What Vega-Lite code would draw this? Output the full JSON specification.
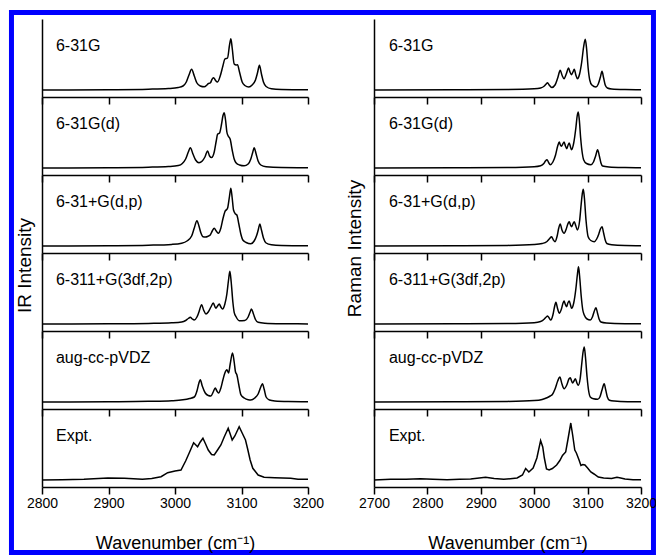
{
"$schema": "https://vega.github.io/schema/vega-lite/v6.json",
"background": "white",
"padding": {"left": 8, "top": 10, "right": 0, "bottom": 0},
"bounds": "flush",
"spacing": 332,
"datasets": {
"ir1": [{"wn":2800,"i":0},{"wn":2900,"i":0.3},{"wn":2960,"i":0.8},{"wn":2990,"i":1.5},{"wn":3005,"i":2.5},{"wn":3012,"i":4},{"wn":3017,"i":8},{"wn":3021,"i":15},{"wn":3025,"i":20.7},{"wn":3029,"i":14},{"wn":3033,"i":7},{"wn":3038,"i":4},{"wn":3044,"i":3.2},{"wn":3048,"i":5},{"wn":3050,"i":6.3},{"wn":3053,"i":7},{"wn":3056,"i":11},{"wn":3058,"i":12.3},{"wn":3061,"i":9.5},{"wn":3064,"i":8},{"wn":3068,"i":14},{"wn":3072,"i":24},{"wn":3075,"i":31},{"wn":3079,"i":32},{"wn":3082,"i":45},{"wn":3084,"i":51.3},{"wn":3086,"i":42},{"wn":3089,"i":26},{"wn":3092,"i":25},{"wn":3094,"i":25.3},{"wn":3097,"i":18},{"wn":3101,"i":8},{"wn":3105,"i":4.5},{"wn":3111,"i":3},{"wn":3116,"i":5},{"wn":3121,"i":10},{"wn":3124,"i":17},{"wn":3127,"i":24.7},{"wn":3130,"i":16},{"wn":3133,"i":8},{"wn":3137,"i":3.5},{"wn":3145,"i":1.2},{"wn":3160,"i":0.5},{"wn":3200,"i":0.2}],
"ir2": [{"wn":2800,"i":0},{"wn":2900,"i":0.3},{"wn":2960,"i":0.8},{"wn":2990,"i":1.5},{"wn":3005,"i":2.5},{"wn":3011,"i":4.5},{"wn":3016,"i":9},{"wn":3020,"i":16},{"wn":3023,"i":20.3},{"wn":3027,"i":14},{"wn":3031,"i":8},{"wn":3036,"i":5.3},{"wn":3041,"i":7},{"wn":3045,"i":11},{"wn":3049,"i":17},{"wn":3052,"i":12},{"wn":3055,"i":10.5},{"wn":3059,"i":16},{"wn":3062,"i":27},{"wn":3064,"i":33.7},{"wn":3067,"i":35},{"wn":3070,"i":44},{"wn":3072,"i":52},{"wn":3074,"i":55.3},{"wn":3076,"i":48},{"wn":3078,"i":36},{"wn":3080,"i":32},{"wn":3083,"i":28.7},{"wn":3086,"i":18},{"wn":3089,"i":9},{"wn":3092,"i":5},{"wn":3097,"i":3},{"wn":3104,"i":2.2},{"wn":3110,"i":4},{"wn":3114,"i":9},{"wn":3117,"i":16},{"wn":3119,"i":20.3},{"wn":3122,"i":14},{"wn":3125,"i":7},{"wn":3129,"i":3},{"wn":3137,"i":1.2},{"wn":3160,"i":0.4},{"wn":3200,"i":0.2}],
"ir3": [{"wn":2800,"i":0},{"wn":2900,"i":0.3},{"wn":2960,"i":0.8},{"wn":2995,"i":1.6},{"wn":3010,"i":2.8},{"wn":3018,"i":5},{"wn":3025,"i":10},{"wn":3029,"i":18},{"wn":3033,"i":25.3},{"wn":3036,"i":20},{"wn":3039,"i":13},{"wn":3042,"i":9.3},{"wn":3046,"i":9},{"wn":3049,"i":9.5},{"wn":3053,"i":11},{"wn":3056,"i":15},{"wn":3059,"i":17.7},{"wn":3062,"i":15},{"wn":3065,"i":12.7},{"wn":3069,"i":18},{"wn":3072,"i":27},{"wn":3075,"i":34.3},{"wn":3079,"i":37.7},{"wn":3082,"i":50},{"wn":3084,"i":57.7},{"wn":3086,"i":48},{"wn":3088,"i":36},{"wn":3091,"i":32},{"wn":3093,"i":31},{"wn":3096,"i":22},{"wn":3099,"i":12},{"wn":3102,"i":6},{"wn":3107,"i":3.5},{"wn":3114,"i":2.2},{"wn":3119,"i":5},{"wn":3123,"i":11},{"wn":3125.5,"i":17},{"wn":3127.5,"i":22},{"wn":3130,"i":16},{"wn":3133,"i":8},{"wn":3137,"i":3},{"wn":3145,"i":1.2},{"wn":3160,"i":0.5},{"wn":3200,"i":0.2}],
"ir4": [{"wn":2800,"i":0},{"wn":2900,"i":0.2},{"wn":2960,"i":0.6},{"wn":2995,"i":1.2},{"wn":3010,"i":2},{"wn":3016,"i":3.5},{"wn":3020,"i":5.5},{"wn":3023,"i":6.7},{"wn":3026,"i":5},{"wn":3029,"i":4},{"wn":3033,"i":7},{"wn":3036,"i":12},{"wn":3040,"i":19.3},{"wn":3043,"i":14},{"wn":3046.5,"i":10},{"wn":3050,"i":12},{"wn":3054,"i":17},{"wn":3057.5,"i":21},{"wn":3061.5,"i":15.7},{"wn":3064,"i":18},{"wn":3066.5,"i":20},{"wn":3069,"i":17},{"wn":3071.5,"i":15},{"wn":3075,"i":20},{"wn":3078,"i":30},{"wn":3080.5,"i":44},{"wn":3082.5,"i":52.7},{"wn":3084.5,"i":42},{"wn":3087,"i":22},{"wn":3089,"i":11.7},{"wn":3092,"i":7},{"wn":3096.5,"i":3.3},{"wn":3105,"i":3.5},{"wn":3110,"i":7},{"wn":3113,"i":12},{"wn":3115,"i":15},{"wn":3118,"i":10},{"wn":3121,"i":4.5},{"wn":3125,"i":1.7},{"wn":3135,"i":0.8},{"wn":3160,"i":0.3},{"wn":3200,"i":0.1}],
"ir5": [{"wn":2800,"i":0},{"wn":2900,"i":0.3},{"wn":2960,"i":0.7},{"wn":2995,"i":1.3},{"wn":3012,"i":2.2},{"wn":3022,"i":3.5},{"wn":3029,"i":5},{"wn":3033,"i":11},{"wn":3036,"i":19},{"wn":3038,"i":22.3},{"wn":3041,"i":16},{"wn":3045.5,"i":9},{"wn":3050,"i":6.5},{"wn":3054,"i":6},{"wn":3057.5,"i":10},{"wn":3060.5,"i":14},{"wn":3063,"i":11},{"wn":3065.5,"i":9},{"wn":3069,"i":14},{"wn":3072,"i":22},{"wn":3075,"i":29},{"wn":3078,"i":32.3},{"wn":3080.5,"i":29},{"wn":3083,"i":38},{"wn":3086.5,"i":49},{"wn":3089,"i":40},{"wn":3091,"i":30},{"wn":3093,"i":27.3},{"wn":3096,"i":17},{"wn":3099,"i":7.3},{"wn":3104,"i":4},{"wn":3110,"i":2.2},{"wn":3114,"i":2},{"wn":3120,"i":4},{"wn":3125,"i":8},{"wn":3129,"i":15},{"wn":3131.5,"i":18.3},{"wn":3134,"i":13},{"wn":3137,"i":5},{"wn":3142,"i":2},{"wn":3150,"i":1},{"wn":3170,"i":0.4},{"wn":3200,"i":0.2}],
"ir6": [{"wn":2800,"i":0},{"wn":2830,"i":0.3},{"wn":2863,"i":0.7},{"wn":2885,"i":1.5},{"wn":2899,"i":2},{"wn":2924,"i":1.7},{"wn":2951,"i":0.7},{"wn":2965,"i":1.5},{"wn":2979,"i":3.3},{"wn":2989,"i":7.3},{"wn":3000,"i":9},{"wn":3009,"i":10},{"wn":3016,"i":19},{"wn":3022,"i":28},{"wn":3028,"i":37.3},{"wn":3034,"i":33.3},{"wn":3038,"i":38},{"wn":3042,"i":41.7},{"wn":3046,"i":36},{"wn":3050,"i":30},{"wn":3055,"i":25.5},{"wn":3059,"i":25},{"wn":3064,"i":30},{"wn":3069,"i":35},{"wn":3074,"i":43},{"wn":3080,"i":51.7},{"wn":3083,"i":46},{"wn":3086,"i":40},{"wn":3090,"i":44},{"wn":3096.5,"i":53.3},{"wn":3101,"i":47},{"wn":3106,"i":40},{"wn":3109,"i":31.7},{"wn":3113,"i":20},{"wn":3117,"i":11.7},{"wn":3125,"i":5},{"wn":3134,"i":2.7},{"wn":3150,"i":2.2},{"wn":3174,"i":1.7},{"wn":3185,"i":0.7},{"wn":3200,"i":0.7}],
"ra1": [{"wn":2700,"i":0},{"wn":2850,"i":0.2},{"wn":2950,"i":0.5},{"wn":3000,"i":1.2},{"wn":3012,"i":2},{"wn":3019,"i":4},{"wn":3022.5,"i":6},{"wn":3025,"i":7.3},{"wn":3028,"i":5},{"wn":3033,"i":2.5},{"wn":3039,"i":5},{"wn":3044,"i":12},{"wn":3048.75,"i":19.7},{"wn":3052,"i":15},{"wn":3056,"i":11.3},{"wn":3060,"i":16},{"wn":3064.4,"i":22},{"wn":3067,"i":18},{"wn":3070,"i":15.3},{"wn":3072.5,"i":18},{"wn":3075,"i":20.7},{"wn":3078,"i":15},{"wn":3081,"i":11.3},{"wn":3085,"i":16},{"wn":3089,"i":28},{"wn":3092.5,"i":43},{"wn":3095.6,"i":50.7},{"wn":3098,"i":42},{"wn":3101,"i":22},{"wn":3104,"i":10},{"wn":3108,"i":5},{"wn":3115.6,"i":3},{"wn":3120,"i":6},{"wn":3124,"i":13},{"wn":3127,"i":18.7},{"wn":3130,"i":12},{"wn":3133,"i":5},{"wn":3137,"i":2},{"wn":3145,"i":1},{"wn":3170,"i":0.4},{"wn":3200,"i":0.2}],
"ra2": [{"wn":2700,"i":0},{"wn":2850,"i":0.2},{"wn":2950,"i":0.5},{"wn":3000,"i":1.3},{"wn":3012,"i":2.3},{"wn":3018,"i":4.5},{"wn":3021,"i":7},{"wn":3024,"i":8.3},{"wn":3027,"i":5.5},{"wn":3030,"i":3.3},{"wn":3035,"i":6},{"wn":3040,"i":13},{"wn":3044,"i":22},{"wn":3047,"i":26},{"wn":3049,"i":23},{"wn":3051,"i":21.7},{"wn":3053.5,"i":24},{"wn":3056,"i":26},{"wn":3058.5,"i":22},{"wn":3061,"i":19.3},{"wn":3063.5,"i":23},{"wn":3065.6,"i":25},{"wn":3068,"i":21},{"wn":3070,"i":18.3},{"wn":3074,"i":25},{"wn":3078,"i":40},{"wn":3080.5,"i":52},{"wn":3082.5,"i":56},{"wn":3084.5,"i":48},{"wn":3087,"i":30},{"wn":3090,"i":15},{"wn":3092.5,"i":8.3},{"wn":3098,"i":4.5},{"wn":3106,"i":3.3},{"wn":3111,"i":6},{"wn":3115,"i":12},{"wn":3118.75,"i":18.3},{"wn":3122,"i":12},{"wn":3125,"i":5},{"wn":3128,"i":2},{"wn":3140,"i":1},{"wn":3170,"i":0.4},{"wn":3200,"i":0.2}],
"ra3": [{"wn":2700,"i":0},{"wn":2850,"i":0.2},{"wn":2950,"i":0.6},{"wn":3000,"i":1.5},{"wn":3015,"i":2.5},{"wn":3024,"i":4.5},{"wn":3029,"i":7.5},{"wn":3032.5,"i":9.3},{"wn":3036,"i":6},{"wn":3039,"i":4.3},{"wn":3043,"i":10},{"wn":3046,"i":18},{"wn":3048.75,"i":22},{"wn":3052,"i":16},{"wn":3056,"i":12.7},{"wn":3060,"i":17},{"wn":3063,"i":22},{"wn":3065.6,"i":24.3},{"wn":3068,"i":21},{"wn":3070,"i":19.3},{"wn":3072.5,"i":22},{"wn":3075,"i":24.3},{"wn":3078,"i":20},{"wn":3081,"i":16},{"wn":3085,"i":25},{"wn":3088,"i":42},{"wn":3090,"i":52},{"wn":3091.9,"i":56.7},{"wn":3094,"i":48},{"wn":3097,"i":26},{"wn":3101,"i":9.3},{"wn":3106,"i":5.5},{"wn":3112.5,"i":4.3},{"wn":3117,"i":7},{"wn":3121,"i":12},{"wn":3124,"i":17},{"wn":3127,"i":19.3},{"wn":3130,"i":13},{"wn":3133,"i":6},{"wn":3136,"i":2.5},{"wn":3145,"i":1.2},{"wn":3170,"i":0.4},{"wn":3200,"i":0.2}],
"ra4": [{"wn":2700,"i":0},{"wn":2850,"i":0.2},{"wn":2950,"i":0.5},{"wn":3000,"i":1.3},{"wn":3012,"i":2.5},{"wn":3019,"i":5},{"wn":3022.5,"i":7},{"wn":3025,"i":8},{"wn":3028,"i":6},{"wn":3031,"i":4},{"wn":3035,"i":9},{"wn":3038,"i":17},{"wn":3040.6,"i":21.7},{"wn":3044,"i":15},{"wn":3047,"i":10.7},{"wn":3051,"i":15},{"wn":3054,"i":21},{"wn":3056,"i":23},{"wn":3058,"i":20},{"wn":3060.6,"i":17.3},{"wn":3063,"i":21},{"wn":3065.6,"i":23},{"wn":3068,"i":19},{"wn":3070,"i":15.7},{"wn":3074,"i":21},{"wn":3078,"i":35},{"wn":3081,"i":50},{"wn":3083,"i":57.3},{"wn":3085,"i":48},{"wn":3088,"i":28},{"wn":3091,"i":14},{"wn":3093.75,"i":9},{"wn":3099,"i":5},{"wn":3105,"i":4},{"wn":3109,"i":7},{"wn":3112,"i":12},{"wn":3115.6,"i":16.3},{"wn":3118.5,"i":11},{"wn":3121.5,"i":5},{"wn":3125,"i":2},{"wn":3135,"i":1},{"wn":3170,"i":0.3},{"wn":3200,"i":0.2}],
"ra5": [{"wn":2700,"i":0},{"wn":2850,"i":0.2},{"wn":2950,"i":0.6},{"wn":3000,"i":1.4},{"wn":3015,"i":2.5},{"wn":3025,"i":4.5},{"wn":3030,"i":6},{"wn":3034,"i":7.5},{"wn":3039,"i":13},{"wn":3044,"i":21},{"wn":3048,"i":25},{"wn":3052,"i":18},{"wn":3056,"i":13.3},{"wn":3061,"i":17},{"wn":3065,"i":23},{"wn":3067.5,"i":24.3},{"wn":3070,"i":21},{"wn":3072,"i":19},{"wn":3074.5,"i":21},{"wn":3077,"i":23.3},{"wn":3080,"i":19},{"wn":3082.5,"i":16.7},{"wn":3086,"i":23},{"wn":3089,"i":38},{"wn":3091.5,"i":50},{"wn":3093.75,"i":55},{"wn":3096,"i":45},{"wn":3099,"i":25},{"wn":3102,"i":11},{"wn":3105,"i":5},{"wn":3111,"i":3.2},{"wn":3118.75,"i":2.7},{"wn":3123,"i":5},{"wn":3127,"i":12},{"wn":3131,"i":18.3},{"wn":3134,"i":12},{"wn":3137,"i":5},{"wn":3141,"i":1.7},{"wn":3150,"i":0.9},{"wn":3175,"i":0.3},{"wn":3200,"i":0.2}],
"ra6": [{"wn":2700,"i":0},{"wn":2731,"i":0.7},{"wn":2760,"i":0.8},{"wn":2787,"i":1.3},{"wn":2810,"i":0.8},{"wn":2837,"i":0.3},{"wn":2860,"i":0.7},{"wn":2881,"i":1},{"wn":2909,"i":2.7},{"wn":2925,"i":1.5},{"wn":2943,"i":0.7},{"wn":2968,"i":2},{"wn":2978,"i":5},{"wn":2984,"i":11.5},{"wn":2990,"i":8},{"wn":2998,"i":12},{"wn":3005,"i":22},{"wn":3012,"i":39.5},{"wn":3016,"i":33},{"wn":3019,"i":22},{"wn":3023,"i":11},{"wn":3028,"i":10},{"wn":3034,"i":11.5},{"wn":3042,"i":15},{"wn":3048,"i":19.5},{"wn":3053,"i":24.5},{"wn":3059,"i":28},{"wn":3063,"i":40},{"wn":3068.5,"i":57},{"wn":3072,"i":45},{"wn":3076,"i":30},{"wn":3079,"i":27},{"wn":3084,"i":20},{"wn":3087.5,"i":14.5},{"wn":3091,"i":15.5},{"wn":3095,"i":15},{"wn":3100,"i":12},{"wn":3106,"i":8},{"wn":3112,"i":6},{"wn":3120,"i":3},{"wn":3130,"i":2},{"wn":3145,"i":1.5},{"wn":3155,"i":2.7},{"wn":3162,"i":2},{"wn":3170,"i":1},{"wn":3185,"i":0.3},{"wn":3200,"i":0.3}]
},
"hconcat": [
{"spacing": 0, "bounds": "flush", "vconcat": [
 {"width":266,"height":78,"layer":[
  {"data":{"values":[{}]},"mark":{"type":"rect","fill":"white","fillOpacity":0,"stroke":"#0000ff","strokeWidth":5,"clip":false},"encoding":{"x":{"datum":2754.1},"x2":{"datum":3719.5},"y":{"datum":77.5},"y2":{"datum":-462.5}}},
  {"data":{"name":"ir1"},"mark":{"type":"line","interpolate":"monotone","color":"black","strokeWidth":1.5},"encoding":{"x":{"field":"wn","type":"quantitative","scale":{"domain":[2800,3200],"nice":false,"zero":false},"axis":{"values":[2800,2850,2900,2950,3000,3050,3100,3150,3200],"labels":false,"title":null,"tickSize":{"condition":{"test":"datum.value % 100 === 0","value":7},"value":4}}},"y":{"field":"i","type":"quantitative","scale":{"domain":[-7,71],"nice":false,"zero":false},"axis":{"labels":false,"ticks":false,"title":null}}}},
  {"data":{"values":[{"label":"6-31G"}]},"mark":{"type":"text","align":"left","baseline":"alphabetic","fontSize":16},"encoding":{"x":{"datum":2821},"y":{"datum":39},"text":{"field":"label"}}}]},
 {"width":266,"height":78,"layer":[
  {"data":{"name":"ir2"},"mark":{"type":"line","interpolate":"monotone","color":"black","strokeWidth":1.5},"encoding":{"x":{"field":"wn","type":"quantitative","scale":{"domain":[2800,3200],"nice":false,"zero":false},"axis":{"values":[2800,2850,2900,2950,3000,3050,3100,3150,3200],"labels":false,"title":null,"tickSize":{"condition":{"test":"datum.value % 100 === 0","value":7},"value":4}}},"y":{"field":"i","type":"quantitative","scale":{"domain":[-7,71],"nice":false,"zero":false},"axis":{"labels":false,"ticks":false,"title":null}}}},
  {"data":{"values":[{"label":"6-31G(d)"}]},"mark":{"type":"text","align":"left","baseline":"alphabetic","fontSize":16},"encoding":{"x":{"datum":2821},"y":{"datum":39},"text":{"field":"label"}}}]},
 {"width":266,"height":78,"layer":[
  {"data":{"name":"ir3"},"mark":{"type":"line","interpolate":"monotone","color":"black","strokeWidth":1.5},"encoding":{"x":{"field":"wn","type":"quantitative","scale":{"domain":[2800,3200],"nice":false,"zero":false},"axis":{"values":[2800,2850,2900,2950,3000,3050,3100,3150,3200],"labels":false,"title":null,"tickSize":{"condition":{"test":"datum.value % 100 === 0","value":7},"value":4}}},"y":{"field":"i","type":"quantitative","scale":{"domain":[-7,71],"nice":false,"zero":false},"axis":{"labels":false,"ticks":false,"title":"IR Intensity","titleFontSize":19,"titleAlign":"center","titleY":90,"titlePadding":8}}}},
  {"data":{"values":[{"label":"6-31+G(d,p)"}]},"mark":{"type":"text","align":"left","baseline":"alphabetic","fontSize":16},"encoding":{"x":{"datum":2821},"y":{"datum":39},"text":{"field":"label"}}}]},
 {"width":266,"height":78,"layer":[
  {"data":{"name":"ir4"},"mark":{"type":"line","interpolate":"monotone","color":"black","strokeWidth":1.5},"encoding":{"x":{"field":"wn","type":"quantitative","scale":{"domain":[2800,3200],"nice":false,"zero":false},"axis":{"values":[2800,2850,2900,2950,3000,3050,3100,3150,3200],"labels":false,"title":null,"tickSize":{"condition":{"test":"datum.value % 100 === 0","value":7},"value":4}}},"y":{"field":"i","type":"quantitative","scale":{"domain":[-7,71],"nice":false,"zero":false},"axis":{"labels":false,"ticks":false,"title":null}}}},
  {"data":{"values":[{"label":"6-311+G(3df,2p)"}]},"mark":{"type":"text","align":"left","baseline":"alphabetic","fontSize":16},"encoding":{"x":{"datum":2821},"y":{"datum":39},"text":{"field":"label"}}}]},
 {"width":266,"height":78,"layer":[
  {"data":{"name":"ir5"},"mark":{"type":"line","interpolate":"monotone","color":"black","strokeWidth":1.5},"encoding":{"x":{"field":"wn","type":"quantitative","scale":{"domain":[2800,3200],"nice":false,"zero":false},"axis":{"values":[2800,2850,2900,2950,3000,3050,3100,3150,3200],"labels":false,"title":null,"tickSize":{"condition":{"test":"datum.value % 100 === 0","value":7},"value":4}}},"y":{"field":"i","type":"quantitative","scale":{"domain":[-7,71],"nice":false,"zero":false},"axis":{"labels":false,"ticks":false,"title":null}}}},
  {"data":{"values":[{"label":"aug-cc-pVDZ"}]},"mark":{"type":"text","align":"left","baseline":"alphabetic","fontSize":16},"encoding":{"x":{"datum":2821},"y":{"datum":39},"text":{"field":"label"}}}]},
 {"width":266,"height":78,"layer":[
  {"data":{"name":"ir6"},"mark":{"type":"line","color":"black","strokeWidth":1.5},"encoding":{"x":{"field":"wn","type":"quantitative","scale":{"domain":[2800,3200],"nice":false,"zero":false},"axis":{"values":[2800,2850,2900,2950,3000,3050,3100,3150,3200],"format":"d","labelExpr":"datum.value % 100 === 0 ? datum.label : ''","labelFlush":false,"labelOverlap":false,"labelFontSize":14,"labelPadding":2,"title":"Wavenumber (cm⁻¹)","titleFontSize":18,"titlePadding":24,"tickSize":{"condition":{"test":"datum.value % 100 === 0","value":7},"value":4}}},"y":{"field":"i","type":"quantitative","scale":{"domain":[-7,71],"nice":false,"zero":false},"axis":{"labels":false,"ticks":false,"title":null}}}},
  {"data":{"values":[{"label":"Expt."}]},"mark":{"type":"text","align":"left","baseline":"alphabetic","fontSize":16},"encoding":{"x":{"datum":2821},"y":{"datum":39},"text":{"field":"label"}}}]}
]},
{"spacing": 0, "bounds": "flush", "vconcat": [
 {"width":267,"height":78,"layer":[
  {"data":{"name":"ra1"},"mark":{"type":"line","interpolate":"monotone","color":"black","strokeWidth":1.5},"encoding":{"x":{"field":"wn","type":"quantitative","scale":{"domain":[2700,3200],"nice":false,"zero":false},"axis":{"values":[2700,2750,2800,2850,2900,2950,3000,3050,3100,3150,3200],"labels":false,"title":null,"tickSize":{"condition":{"test":"datum.value % 100 === 0","value":7},"value":4}}},"y":{"field":"i","type":"quantitative","scale":{"domain":[-7,71],"nice":false,"zero":false},"axis":{"labels":false,"ticks":false,"title":null}}}},
  {"data":{"values":[{"label":"6-31G"}]},"mark":{"type":"text","align":"left","baseline":"alphabetic","fontSize":16},"encoding":{"x":{"datum":2728},"y":{"datum":39},"text":{"field":"label"}}}]},
 {"width":267,"height":78,"layer":[
  {"data":{"name":"ra2"},"mark":{"type":"line","interpolate":"monotone","color":"black","strokeWidth":1.5},"encoding":{"x":{"field":"wn","type":"quantitative","scale":{"domain":[2700,3200],"nice":false,"zero":false},"axis":{"values":[2700,2750,2800,2850,2900,2950,3000,3050,3100,3150,3200],"labels":false,"title":null,"tickSize":{"condition":{"test":"datum.value % 100 === 0","value":7},"value":4}}},"y":{"field":"i","type":"quantitative","scale":{"domain":[-7,71],"nice":false,"zero":false},"axis":{"labels":false,"ticks":false,"title":null}}}},
  {"data":{"values":[{"label":"6-31G(d)"}]},"mark":{"type":"text","align":"left","baseline":"alphabetic","fontSize":16},"encoding":{"x":{"datum":2728},"y":{"datum":39},"text":{"field":"label"}}}]},
 {"width":267,"height":78,"layer":[
  {"data":{"name":"ra3"},"mark":{"type":"line","interpolate":"monotone","color":"black","strokeWidth":1.5},"encoding":{"x":{"field":"wn","type":"quantitative","scale":{"domain":[2700,3200],"nice":false,"zero":false},"axis":{"values":[2700,2750,2800,2850,2900,2950,3000,3050,3100,3150,3200],"labels":false,"title":null,"tickSize":{"condition":{"test":"datum.value % 100 === 0","value":7},"value":4}}},"y":{"field":"i","type":"quantitative","scale":{"domain":[-7,71],"nice":false,"zero":false},"axis":{"labels":false,"ticks":false,"title":"Raman Intensity","titleFontSize":19,"titleAlign":"center","titleY":73,"titlePadding":10}}}},
  {"data":{"values":[{"label":"6-31+G(d,p)"}]},"mark":{"type":"text","align":"left","baseline":"alphabetic","fontSize":16},"encoding":{"x":{"datum":2728},"y":{"datum":39},"text":{"field":"label"}}}]},
 {"width":267,"height":78,"layer":[
  {"data":{"name":"ra4"},"mark":{"type":"line","interpolate":"monotone","color":"black","strokeWidth":1.5},"encoding":{"x":{"field":"wn","type":"quantitative","scale":{"domain":[2700,3200],"nice":false,"zero":false},"axis":{"values":[2700,2750,2800,2850,2900,2950,3000,3050,3100,3150,3200],"labels":false,"title":null,"tickSize":{"condition":{"test":"datum.value % 100 === 0","value":7},"value":4}}},"y":{"field":"i","type":"quantitative","scale":{"domain":[-7,71],"nice":false,"zero":false},"axis":{"labels":false,"ticks":false,"title":null}}}},
  {"data":{"values":[{"label":"6-311+G(3df,2p)"}]},"mark":{"type":"text","align":"left","baseline":"alphabetic","fontSize":16},"encoding":{"x":{"datum":2728},"y":{"datum":39},"text":{"field":"label"}}}]},
 {"width":267,"height":78,"layer":[
  {"data":{"name":"ra5"},"mark":{"type":"line","interpolate":"monotone","color":"black","strokeWidth":1.5},"encoding":{"x":{"field":"wn","type":"quantitative","scale":{"domain":[2700,3200],"nice":false,"zero":false},"axis":{"values":[2700,2750,2800,2850,2900,2950,3000,3050,3100,3150,3200],"labels":false,"title":null,"tickSize":{"condition":{"test":"datum.value % 100 === 0","value":7},"value":4}}},"y":{"field":"i","type":"quantitative","scale":{"domain":[-7,71],"nice":false,"zero":false},"axis":{"labels":false,"ticks":false,"title":null}}}},
  {"data":{"values":[{"label":"aug-cc-pVDZ"}]},"mark":{"type":"text","align":"left","baseline":"alphabetic","fontSize":16},"encoding":{"x":{"datum":2728},"y":{"datum":39},"text":{"field":"label"}}}]},
 {"width":267,"height":78,"layer":[
  {"data":{"name":"ra6"},"mark":{"type":"line","color":"black","strokeWidth":1.5},"encoding":{"x":{"field":"wn","type":"quantitative","scale":{"domain":[2700,3200],"nice":false,"zero":false},"axis":{"values":[2700,2750,2800,2850,2900,2950,3000,3050,3100,3150,3200],"format":"d","labelExpr":"datum.value % 100 === 0 ? datum.label : ''","labelFlush":false,"labelOverlap":false,"labelFontSize":14,"labelPadding":2,"title":"Wavenumber (cm⁻¹)","titleFontSize":18,"titlePadding":24,"tickSize":{"condition":{"test":"datum.value % 100 === 0","value":7},"value":4}}},"y":{"field":"i","type":"quantitative","scale":{"domain":[-7,71],"nice":false,"zero":false},"axis":{"labels":false,"ticks":false,"title":null}}}},
  {"data":{"values":[{"label":"Expt."}]},"mark":{"type":"text","align":"left","baseline":"alphabetic","fontSize":16},"encoding":{"x":{"datum":2728},"y":{"datum":39},"text":{"field":"label"}}}]}
]}
],
"config": {
 "font": "Liberation Sans",
 "view": {"stroke": null},
 "axis": {"grid": false, "domainColor": "black", "domainWidth": 1.5, "tickColor": "black", "tickWidth": 1.5, "labelColor": "black", "titleColor": "black", "titleFontWeight": "normal", "titleFont": "Liberation Sans", "labelFont": "Liberation Sans"},
 "text": {"color": "black", "font": "Liberation Sans"}
}
}
